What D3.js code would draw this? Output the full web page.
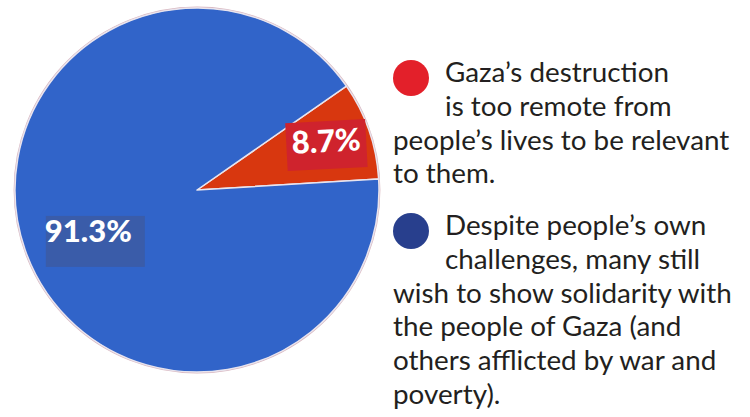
<!DOCTYPE html>
<html><head><meta charset="utf-8">
<script src="https://cdn.jsdelivr.net/npm/d3@7"></script>
<style>body{margin:0;background:#fff;}svg{display:block;}</style>
</head><body>
<svg id="c" width="750" height="417"></svg>
<script>
const categories = ["Remote", "Solidarity"];
const values = [8.7, 91.3];
const valueLabels = ["8.7%", "91.3%"];
const sliceColors = ["#D8370F", "#3164C9"];
const boxColors = ["#CF232D", "#3A5CA9"];
const legendColors = ["#E3202A", "#283F8D"];
const legendLines = [
  ["Gaza’s destruction", "is too remote from", "people’s lives to be relevant", "to them."],
  ["Despite people’s own", "challenges, many still", "wish to show solidarity with", "the people of Gaza (and", "others afflicted by war and", "poverty)."]
];

const svg = d3.select("#c");
const cx = 197, cy = 190, R = 182;
const deg = Math.PI / 180;
const start = 86.5 * deg;

const pie = d3.pie().sort(null).value(d => d.v)
  .startAngle(start - 2 * Math.PI * values[0] / 100)
  .endAngle(start - 2 * Math.PI * values[0] / 100 + 2 * Math.PI);
const data = pie(categories.map((c, i) => ({c, v: values[i], i})));
const arc = d3.arc().innerRadius(0).outerRadius(R);

const g = svg.append("g").attr("transform", `translate(${cx},${cy})`);
g.append("circle").attr("r", R + 0.8).attr("fill", "none").attr("stroke", "#d9b8c0").attr("stroke-width", 1.2);
g.selectAll("path.slice").data(data).enter().append("path")
  .attr("d", arc).attr("fill", d => sliceColors[d.data.i])
  .attr("stroke", "#e8e4ee").attr("stroke-width", 1.5).attr("stroke-linejoin", "round");

// labels
const labelR = [137, 114];
const labelShift = [[0, 0], [6, 14]];
const boxSize = [[80, 48], [99, 51]];
data.forEach(d => {
  const i = d.data.i;
  const la = d3.arc().innerRadius(labelR[i]).outerRadius(labelR[i]);
  const [x, y] = la.centroid(d);
  const lx = x + labelShift[i][0], ly = y + labelShift[i][1];
  const lg = g.append("g").attr("transform", `translate(${lx},${ly}) rotate(${i === 0 ? -3 : 0})`);
  lg.append("rect").attr("x", -boxSize[i][0] / 2).attr("y", -boxSize[i][1] / 2)
    .attr("width", boxSize[i][0]).attr("height", boxSize[i][1]).attr("fill", boxColors[i]);
  lg.append("text").text(valueLabels[i])
    .attr("x", i === 0 ? 0 : -7).attr("y", i === 0 ? 7 : 1)
    .attr("text-anchor", "middle")
    .attr("font-family", "Lato, sans-serif").attr("font-weight", 900)
    .attr("font-size", 31).attr("fill", "#fff");
});

// legend
const legendTop = [82, 235];
const lh = 33.8;
legendLines.forEach((lines, k) => {
  svg.append("circle").attr("cx", 411).attr("cy", legendTop[k] - 4).attr("r", 18).attr("fill", legendColors[k]);
  const t = svg.append("text").attr("font-family", "Lato, sans-serif").attr("font-weight", 400)
    .attr("font-size", 27.8).attr("fill", "#231F20");
  lines.forEach((s, j) => {
    t.append("tspan").attr("x", j < 2 ? 445 : 393).attr("y", legendTop[k] + j * lh).text(s);
  });
});
</script>
</body></html>
